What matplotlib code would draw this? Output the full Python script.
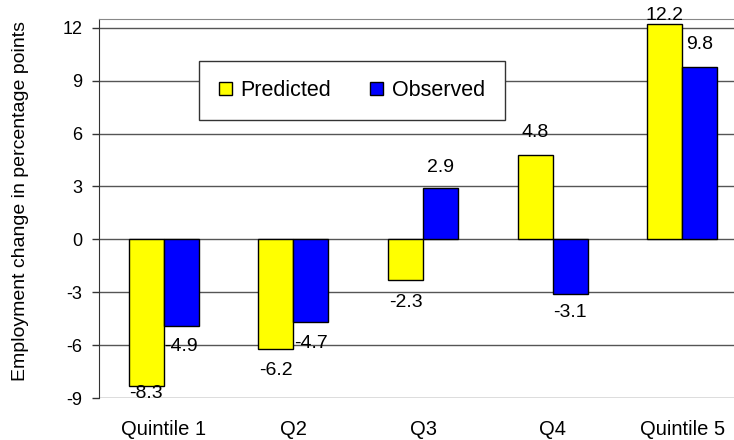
import matplotlib
matplotlib.use("Agg")
import matplotlib.pyplot as plt
import numpy as np

categories = ["Quintile 1", "Q2", "Q3", "Q4", "Quintile 5"]
predicted = [-8.3, -6.2, -2.3, 4.8, 12.2]
observed = [-4.9, -4.7, 2.9, -3.1, 9.8]
yticks = [-9, -6, -3, 0, 3, 6, 9, 12]

# label offsets in points (style)
pred_off = [6, 16, 16, 16, 6]
obs_off = [15, 15, 15, 13, 16]

plt.rcParams['font.family'] = ['Liberation Sans', 'DejaVu Sans']

fig = plt.figure(figsize=(7.34, 4.40), dpi=100)
ax = fig.add_axes([99/734, 1-398/440, 648/734, 379/440])

x = np.arange(len(categories))
w = 0.27
b1 = ax.bar(x - w/2, predicted, w, color='#FFFF00', edgecolor='black', linewidth=1, label='Predicted', zorder=3)
b2 = ax.bar(x + w/2, observed, w, color='#0000FF', edgecolor='black', linewidth=1, label='Observed', zorder=3)

for bars, vals, offs in [(b1, predicted, pred_off), (b2, observed, obs_off)]:
    for r, v, o in zip(bars, vals, offs):
        cx = r.get_x() + r.get_width()/2
        ax.annotate(f"{v:.1f}", (cx, v), xytext=(0, o if v > 0 else -o),
                    textcoords='offset points', ha='center', va='center',
                    fontsize=14, zorder=5)

ax.set_xlim(-0.5, 4.5)
ax.set_ylim(-9, 12.5)
ax.set_yticks(yticks)
ax.set_yticklabels([str(t) for t in yticks], fontsize=13)
ax.set_xticks(x)
ax.set_xticklabels(categories, fontsize=14.5)
ax.tick_params(axis='x', length=0, pad=16)
ax.tick_params(axis='y', length=5, pad=7, width=1, color='#333333')
ax.yaxis.grid(True, color='#555555', linewidth=1, zorder=0)
ax.set_axisbelow(True)
for s in ['right', 'bottom']:
    ax.spines[s].set_visible(False)
ax.spines['top'].set_color('#888888')
ax.spines['left'].set_color('#333333')
ax.set_ylabel("Employment change in percentage points", fontsize=14)
ax.yaxis.set_label_coords((29-99)/648, (398-201)/379)

leg = ax.legend(loc='center', bbox_to_anchor=(352/734, 1-90.5/440), bbox_transform=fig.transFigure,
                ncol=2, fontsize=15.5, frameon=True, fancybox=False, borderpad=0.9,
                handlelength=0.6, handleheight=0.6, handletextpad=0.42, columnspacing=1.8)
leg.get_frame().set_edgecolor('#333333')
leg.get_frame().set_linewidth(1)
leg.get_frame().set_alpha(1)
leg.set_zorder(6)

fig.savefig("out.png", dpi=100)
